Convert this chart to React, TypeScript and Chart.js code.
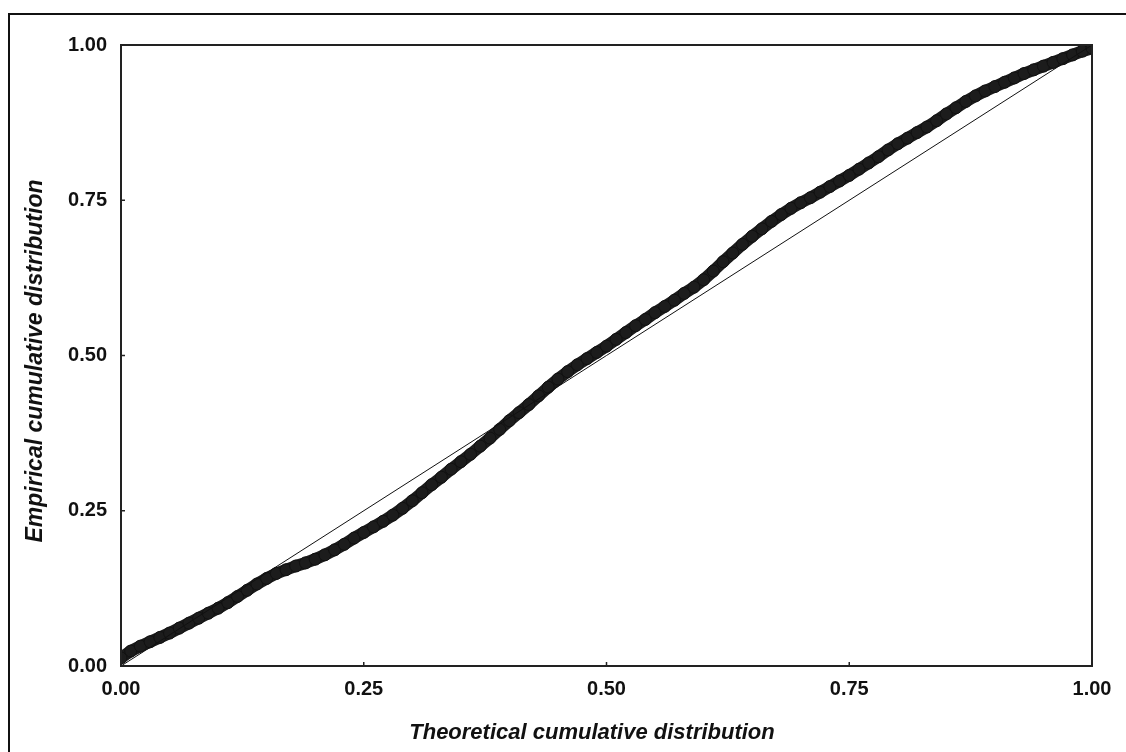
import React, { useEffect, useRef } from "react";
import { Chart, registerables } from "chart.js";

Chart.register(...registerables);

// Theoretical cumulative distribution (x)
const theoretical = [
  0.0, 0.01, 0.02, 0.03, 0.04, 0.05, 0.06, 0.07, 0.08, 0.09,
  0.1, 0.11, 0.12, 0.13, 0.14, 0.15, 0.16, 0.17, 0.18, 0.19,
  0.2, 0.21, 0.22, 0.23, 0.24, 0.25, 0.26, 0.27, 0.28, 0.29,
  0.3, 0.31, 0.32, 0.33, 0.34, 0.35, 0.36, 0.37, 0.38, 0.39,
  0.4, 0.41, 0.42, 0.43, 0.44, 0.45, 0.46, 0.47, 0.48, 0.49,
  0.5, 0.51, 0.52, 0.53, 0.54, 0.55, 0.56, 0.57, 0.58, 0.59,
  0.6, 0.61, 0.62, 0.63, 0.64, 0.65, 0.66, 0.67, 0.68, 0.69,
  0.7, 0.71, 0.72, 0.73, 0.74, 0.75, 0.76, 0.77, 0.78, 0.79,
  0.8, 0.81, 0.82, 0.83, 0.84, 0.85, 0.86, 0.87, 0.88, 0.89,
  0.9, 0.91, 0.92, 0.93, 0.94, 0.95, 0.96, 0.97, 0.98, 0.99,
  1.0,
];

// Empirical cumulative distribution (y)
const empirical = [
  0.013, 0.024, 0.032, 0.039, 0.046, 0.053, 0.061, 0.069, 0.077, 0.085,
  0.093, 0.102, 0.112, 0.122, 0.132, 0.141, 0.149, 0.155, 0.161, 0.166,
  0.172, 0.179, 0.187, 0.196, 0.206, 0.215, 0.224, 0.233, 0.243, 0.254,
  0.266, 0.279, 0.292, 0.304, 0.317, 0.329, 0.341, 0.354, 0.367, 0.381,
  0.395, 0.408, 0.421, 0.435, 0.449, 0.462, 0.474, 0.485, 0.495, 0.505,
  0.515, 0.526, 0.537, 0.548, 0.558, 0.569, 0.579, 0.589, 0.600, 0.610,
  0.622, 0.636, 0.651, 0.665, 0.679, 0.692, 0.704, 0.716, 0.727, 0.737,
  0.746, 0.754, 0.763, 0.772, 0.781, 0.790, 0.800, 0.810, 0.820, 0.831,
  0.841, 0.850, 0.859, 0.868, 0.878, 0.889, 0.899, 0.909, 0.918, 0.926,
  0.933, 0.940, 0.947, 0.954, 0.960, 0.966, 0.972, 0.978, 0.984, 0.990,
  0.995,
];

// Reference diagonal
const diagonalX = [0, 1];
const diagonalY = [0, 1];

const tickValues = [0, 0.25, 0.5, 0.75, 1];
const xTitle = "Theoretical cumulative distribution";
const yTitle = "Empirical cumulative distribution";

const W = 1126;
const H = 752;
const FONT = '"Liberation Sans", Arial, sans-serif';

const decorPlugin = {
  id: "decor",
  beforeDraw(chart: any) {
    const ctx = chart.ctx;
    ctx.save();
    ctx.fillStyle = "#ffffff";
    ctx.fillRect(0, 0, chart.width, chart.height);
    ctx.restore();
  },
  afterDraw(chart: any) {
    const ctx = chart.ctx;
    const a = chart.chartArea;
    const xs = chart.scales.x;
    const ys = chart.scales.y;
    ctx.save();
    // plot border
    ctx.strokeStyle = "#222";
    ctx.lineWidth = 2;
    ctx.strokeRect(Math.round(a.left), Math.round(a.top), Math.round(a.right - a.left), Math.round(a.bottom - a.top));
    // inward ticks
    ctx.lineWidth = 1.5;
    ctx.beginPath();
    tickValues.forEach((v) => {
      const px = xs.getPixelForValue(v);
      ctx.moveTo(px, a.bottom);
      ctx.lineTo(px, a.bottom - 4);
      const py = ys.getPixelForValue(v);
      ctx.moveTo(a.left, py);
      ctx.lineTo(a.left + 4, py);
    });
    ctx.stroke();
    // outer frame (left & top)
    ctx.fillStyle = "#111";
    ctx.fillRect(8, 13, W - 8, 2);
    ctx.fillRect(8, 13, 2, H - 13);
    // titles
    ctx.fillStyle = "#111";
    ctx.font = `italic bold 22px ${FONT}`;
    ctx.textAlign = "center";
    ctx.textBaseline = "alphabetic";
    ctx.fillText(xTitle, 592, 739);
    ctx.font = `italic bold 23px ${FONT}`;
    ctx.translate(42, 361);
    ctx.rotate(-Math.PI / 2);
    ctx.fillText(yTitle, 0, 0);
    ctx.restore();
  },
};

export default function App() {
  const ref = useRef<HTMLCanvasElement | null>(null);
  useEffect(() => {
    if (!ref.current) return;
    const bandData = theoretical.map((t, i) => ({ x: t, y: empirical[i] }));
    const diagData = diagonalX.map((t, i) => ({ x: t, y: diagonalY[i] }));
    const chart = new Chart(ref.current, {
      type: "scatter",
      data: {
        datasets: [
          {
            label: "diagonal",
            data: diagData,
            showLine: true,
            borderColor: "#111",
            borderWidth: 1,
            pointRadius: 0,
            clip: 0,
          } as any,
          {
            label: "empirical",
            data: bandData,
            showLine: true,
            borderColor: "#1c1c1c",
            borderWidth: 12,
            borderCapStyle: "round",
            borderJoinStyle: "round",
            pointRadius: 6,
            pointBackgroundColor: "#1c1c1c",
            pointBorderColor: "#111",
            pointBorderWidth: 1,
            clip: 0,
          } as any,
        ],
      },
      options: {
        responsive: false,
        animation: false,
        devicePixelRatio: 1,
        layout: { padding: { left: 0, top: 45, right: 34, bottom: 0 } },
        plugins: {
          legend: { display: false },
          tooltip: { enabled: false },
        },
        scales: {
          x: {
            type: "linear",
            min: 0,
            max: 1,
            afterFit: (s: any) => {
              s.height = 86;
            },
            grid: { display: false, drawTicks: false },
            border: { display: false },
            ticks: {
              stepSize: 0.25,
              padding: 11,
              color: "#111",
              font: { family: FONT, size: 20, weight: "bold" },
              maxRotation: 0,
              autoSkip: false,
              callback: (v: any) => Number(v).toFixed(2),
            },
          },
          y: {
            type: "linear",
            min: 0,
            max: 1,
            afterFit: (s: any) => {
              s.width = 121;
            },
            grid: { display: false, drawTicks: false },
            border: { display: false },
            ticks: {
              stepSize: 0.25,
              padding: 14,
              color: "#111",
              font: { family: FONT, size: 20, weight: "bold" },
              autoSkip: false,
              callback: (v: any) => Number(v).toFixed(2),
            },
          },
        },
      },
      plugins: [decorPlugin],
    } as any);
    return () => chart.destroy();
  }, []);
  return (
    <div style={{ position: "fixed", left: 0, top: 0, width: W, height: H, background: "#fff" }}>
      <canvas ref={ref} width={W} height={H} style={{ width: W, height: H, display: "block" }} />
    </div>
  );
}
